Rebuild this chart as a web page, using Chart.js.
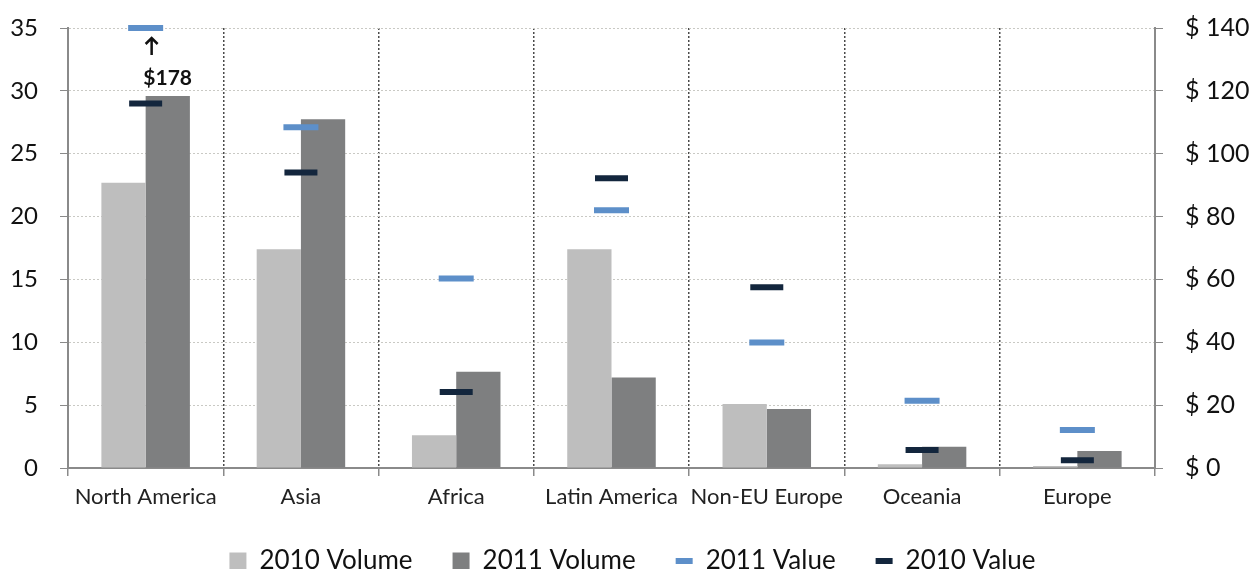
<!DOCTYPE html>
<html lang="en">
<head>
  <meta charset="UTF-8" />
  <title>Volume and Value by Region</title>
  <script src="https://cdn.jsdelivr.net/npm/chart.js"></script>
  <style>
    body {
      margin: 0;
      background: #fff;
    }
    #chart {
      display: block;
    }
  </style>
</head>
<body>
  <canvas id="chart" width="1255" height="569"></canvas>

  <script>
    const regions = ['North America', 'Asia', 'Africa', 'Latin America', 'Non-EU Europe', 'Oceania', 'Europe'];
    const volume2010 = [22.7, 17.4, 2.6, 17.4, 5.1, 0.3, 0.15];
    const volume2011 = [29.6, 27.75, 7.65, 7.2, 4.7, 1.7, 1.35];
    const value2011 = [178, 108.4, 60.3, 82, 39.9, 21.4, 12.1];
    const value2010 = [116, 94, 24.2, 92.2, 57.5, 5.7, 2.5];
    const volumeTicks = [0, 5, 10, 15, 20, 25, 30, 35];
    const valueTicks = [0, 20, 40, 60, 80, 100, 120, 140];

    const valueMax = valueTicks[valueTicks.length - 1];
    const font = 'Lato';

    // values above the axis are pinned to the top and labelled
    const overflowLabel = {
      id: 'overflowLabel',
      afterDatasetsDraw(chart) {
        const { ctx, scales } = chart;
        value2011.forEach((v, i) => {
          if (v <= valueMax) return;
          const x = scales.x.getPixelForValue(i);
          const y = scales.y1.getPixelForValue(valueMax);
          ctx.save();
          ctx.strokeStyle = '#111';
          ctx.lineWidth = 2.5;
          ctx.beginPath();
          ctx.moveTo(x + 6, y + 27);
          ctx.lineTo(x + 6, y + 10);
          ctx.moveTo(x, y + 16);
          ctx.lineTo(x + 6, y + 10);
          ctx.lineTo(x + 12, y + 16);
          ctx.stroke();
          ctx.fillStyle = '#111';
          ctx.font = 'bold 21px ' + font;
          ctx.textAlign = 'center';
          ctx.textBaseline = 'middle';
          ctx.fillText('$' + v, x + 22, y + 50);
          ctx.restore();
        });
      }
    };

    // fixed axis widths, and no extra room above the top tick
    const fitAxis = width => axis => {
      axis.width = width;
      axis.paddingTop = 0;
    };

    const ctx = document.getElementById('chart').getContext('2d');

    new Chart(ctx, {
      data: {
        labels: regions,
        datasets: [{
          type: 'bar',
          label: '2010 Volume',
          data: volume2010,
          backgroundColor: '#bebebe',
          yAxisID: 'y',
          pointStyle: 'rect',
          barPercentage: 1,
          categoryPercentage: 0.57,
          order: 2
        }, {
          type: 'bar',
          label: '2011 Volume',
          data: volume2011,
          backgroundColor: '#7e7f80',
          yAxisID: 'y',
          pointStyle: 'rect',
          barPercentage: 1,
          categoryPercentage: 0.57,
          order: 2
        }, {
          type: 'line',
          label: '2011 Value',
          data: value2011.map(v => Math.min(v, valueMax)),
          yAxisID: 'y1',
          showLine: false,
          pointStyle: 'line',
          pointRadius: 17.5,
          pointHoverRadius: 17.5,
          borderWidth: 6,
          borderColor: '#5d8fc9',
          backgroundColor: '#5d8fc9',
          clip: false,
          order: 1
        }, {
          type: 'line',
          label: '2010 Value',
          data: value2010,
          yAxisID: 'y1',
          showLine: false,
          pointStyle: 'line',
          pointRadius: 16.5,
          pointHoverRadius: 16.5,
          borderWidth: 6,
          borderColor: '#13263d',
          backgroundColor: '#13263d',
          clip: false,
          order: 1
        }]
      },
      options: {
        responsive: false,
        animation: false,
        layout: {
          padding: { left: 10, right: 0, top: 28, bottom: -15 }
        },
        plugins: {
          legend: {
            position: 'bottom',
            labels: {
              usePointStyle: true,
              boxHeight: 17,
              pointStyleWidth: 17,
              padding: 40,
              color: '#111',
              font: { family: font, size: 26 },
              sort: (a, b) => a.datasetIndex - b.datasetIndex
            }
          },
          tooltip: { enabled: false }
        },
        scales: {
          x: {
            afterFit: axis => { axis.height = 40; },
            grid: {
              offset: true,
              color: '#4a4a4a',
              lineWidth: 1.5,
              tickLength: 8,
              tickColor: '#8a8a8a',
              tickBorderDash: []
            },
            border: { color: '#8a8a8a', width: 2, dash: [2, 2] },
            ticks: {
              color: '#222',
              padding: 8,
              autoSkip: false,
              maxRotation: 0,
              minRotation: 0,
              font: { family: font, size: 22 }
            }
          },
          y: {
            position: 'left',
            min: 0,
            max: volumeTicks[volumeTicks.length - 1],
            afterBuildTicks: axis => { axis.ticks = volumeTicks.map(v => ({ value: v })); },
            afterFit: fitAxis(58),
            grid: {
              color: '#c9c9c4',
              tickLength: 8,
              tickColor: '#8a8a8a',
              tickBorderDash: []
            },
            border: { color: '#8a8a8a', width: 2, dash: [2, 2] },
            ticks: {
              color: '#111',
              padding: 22,
              font: { family: font, size: 24 }
            }
          },
          y1: {
            position: 'right',
            min: 0,
            max: valueMax,
            afterBuildTicks: axis => { axis.ticks = valueTicks.map(v => ({ value: v })); },
            afterFit: fitAxis(100),
            grid: {
              drawOnChartArea: false,
              tickLength: 8,
              tickColor: '#8a8a8a'
            },
            border: { color: '#8a8a8a', width: 2 },
            ticks: {
              color: '#111',
              padding: 22,
              font: { family: font, size: 25 },
              callback: v => '$ ' + v
            }
          }
        }
      },
      plugins: [overflowLabel]
    });
  </script>
</body>
</html>
